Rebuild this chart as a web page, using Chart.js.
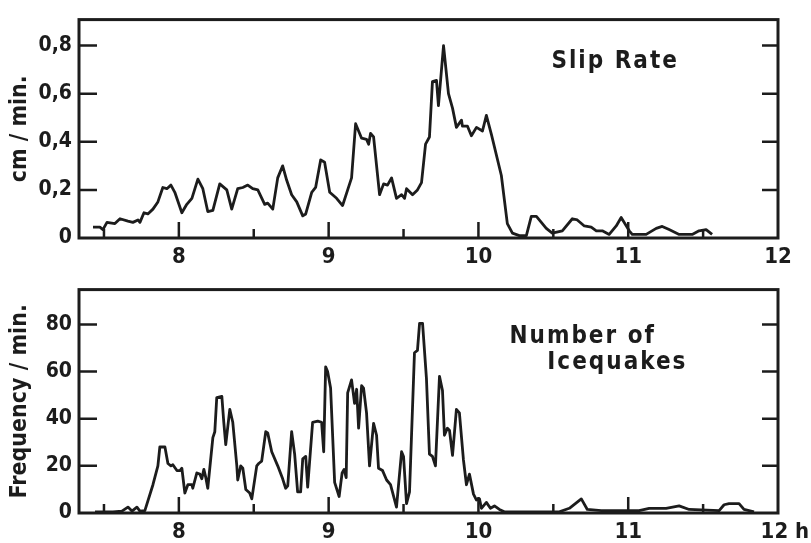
<!DOCTYPE html>
<html>
<head>
<meta charset="utf-8">
<script src="https://cdn.jsdelivr.net/npm/chart.js@4/dist/chart.umd.min.js"></script>
<style>
  body { margin: 0; background: #fff; }
  canvas { position: absolute; left: 0; }
  #slip { top: 0; }
  #quakes { top: 270px; }
</style>
</head>
<body>
<canvas id="slip" width="811" height="270"></canvas>
<canvas id="quakes" width="811" height="273"></canvas>
<script>
// slip rate (cm / min.)
const slipHours = [7.427, 7.473, 7.493, 7.52, 7.573, 7.607, 7.66, 7.693, 7.727, 7.74, 7.767, 7.793, 7.827, 7.86, 7.893, 7.92, 7.947, 7.973,
  8.02, 8.053, 8.087, 8.127, 8.16, 8.193, 8.227, 8.273, 8.32, 8.353, 8.393, 8.427, 8.46, 8.493, 8.527, 8.573, 8.593, 8.627, 8.66, 8.693,
  8.72, 8.753, 8.787, 8.827, 8.847, 8.887, 8.913, 8.947, 8.973, 9.007, 9.053, 9.093, 9.127, 9.153, 9.18, 9.22, 9.253, 9.267, 9.28, 9.3,
  9.34, 9.367, 9.393, 9.42, 9.453, 9.487, 9.507, 9.52, 9.56, 9.593, 9.62, 9.647, 9.673, 9.693, 9.72, 9.733, 9.767, 9.8, 9.827, 9.853,
  9.887, 9.893, 9.927, 9.953, 9.987, 10.027, 10.053, 10.087, 10.153, 10.193, 10.227, 10.273, 10.32, 10.353, 10.387, 10.453, 10.493,
  10.56, 10.627, 10.66, 10.707, 10.753, 10.787, 10.827, 10.873, 10.92, 10.953, 11.007, 11.027, 11.12, 11.187, 11.227, 11.273, 11.34,
  11.427, 11.473, 11.52, 11.56]
const slipRate = [0.045, 0.045, 0.035, 0.065, 0.06, 0.08, 0.07, 0.065, 0.075, 0.065, 0.105, 0.1, 0.12, 0.15, 0.21, 0.205, 0.22, 0.19,
  0.105, 0.14, 0.165, 0.245, 0.205, 0.11, 0.115, 0.225, 0.2, 0.12, 0.205, 0.21, 0.22, 0.205, 0.2, 0.14, 0.145, 0.12, 0.25, 0.3,
  0.24, 0.18, 0.15, 0.092, 0.1, 0.19, 0.21, 0.325, 0.315, 0.19, 0.165, 0.135, 0.2, 0.25, 0.475, 0.415, 0.41, 0.39, 0.435, 0.42,
  0.18, 0.225, 0.22, 0.25, 0.165, 0.18, 0.165, 0.205, 0.18, 0.2, 0.23, 0.39, 0.42, 0.65, 0.655, 0.55, 0.8, 0.6, 0.54, 0.46,
  0.49, 0.465, 0.465, 0.425, 0.46, 0.445, 0.51, 0.43, 0.26, 0.06, 0.02, 0.01, 0.01, 0.09, 0.09, 0.04, 0.02,
  0.03, 0.08, 0.075, 0.05, 0.045, 0.03, 0.03, 0.015, 0.05, 0.085, 0.03, 0.015, 0.015, 0.04, 0.048, 0.035, 0.015,
  0.015, 0.03, 0.035, 0.015]

// icequakes per minute, lower curve
const quakeHours = [7.44, 7.56, 7.62, 7.66, 7.687, 7.72, 7.74, 7.773, 7.827, 7.86, 7.873, 7.907, 7.927, 7.947, 7.96, 7.987, 8.007, 8.02,
  8.04, 8.06, 8.087, 8.093, 8.12, 8.14, 8.153, 8.167, 8.18, 8.193, 8.227, 8.24, 8.253, 8.287, 8.3, 8.313, 8.34, 8.36, 8.387, 8.393,
  8.413, 8.427, 8.447, 8.473, 8.487, 8.52, 8.533, 8.553, 8.58, 8.593, 8.62, 8.66, 8.693, 8.713, 8.727, 8.753, 8.773, 8.793, 8.813,
  8.827, 8.847, 8.86, 8.893, 8.927, 8.953, 8.967, 8.98, 8.993, 9.013, 9.04, 9.07, 9.09, 9.103, 9.117, 9.127, 9.153, 9.173, 9.187,
  9.2, 9.22, 9.233, 9.253, 9.273, 9.3, 9.32, 9.333, 9.36, 9.387, 9.413, 9.453, 9.487, 9.5, 9.52, 9.54, 9.573, 9.593, 9.607, 9.627,
  9.653, 9.673, 9.693, 9.713, 9.74, 9.76, 9.773, 9.793, 9.807, 9.827, 9.853, 9.873, 9.9, 9.92, 9.94, 9.967, 9.987, 10.007, 10.02,
  10.053, 10.08, 10.107, 10.14, 10.173, 10.54, 10.607, 10.687, 10.727, 10.82, 11.073, 11.14, 11.253, 11.34, 11.407, 11.607, 11.64,
  11.673, 11.74, 11.773, 11.84]
const quakeRate = [0.5, 0.5, 0.8, 2.5, 0.8, 2.5, 0.8, 1, 12, 20, 28, 28, 21, 20, 20.5, 18, 18, 19,
  8.5, 12, 12, 10.5, 17, 16.5, 14.5, 18.5, 15, 10.5, 32, 34.5, 49, 49.5, 38.5, 29, 44, 38.5, 20, 14,
  20, 19, 10, 8.5, 6, 20, 21, 22, 34.5, 34, 26, 20, 14.5, 10.5, 11.5, 34.5, 25, 9, 9,
  23, 24, 11, 38.5, 39, 38.5, 26, 62, 60, 53, 13, 7, 17, 18.5, 15, 51, 56.5, 46.5, 52.5,
  36, 54, 53, 42.5, 20, 38, 33, 19, 18, 14, 12, 2.5, 26, 24, 4, 9, 68, 69, 80.5, 80.5,
  57, 25, 24, 20, 58, 52, 33, 36, 35, 24.5, 44, 42.5, 22.5, 12, 16.5, 8, 5.5, 6, 2,
  4.5, 2, 3, 1.5, 0.5, 0.5, 2, 6, 1.5, 1, 1, 2, 2, 3, 1.5, 1, 3.5,
  4, 4, 1.5, 0.5]

const xLabels = [8, 9, 10, 11, 12]
const xInnerTicks = [7.5, 8, 8.5, 9, 9.5, 10, 10.5, 11, 11.5]
const slipTicks = [0, 0.2, 0.4, 0.6, 0.8]
const quakeTicks = [0, 20, 40, 60, 80]

const ink = '#1c1c1c'
const face = '"DejaVu Sans Condensed", "DejaVu Sans", sans-serif'
Chart.defaults.font.family = face
Chart.defaults.font.weight = 'bold'
Chart.defaults.color = ink

// box round the plot, ticks pointing inwards and the in-plot captions
const frame = {
  id: 'frame',
  afterDatasetsDraw(chart, args, opts) {
    const {ctx, chartArea: a, scales: {x, y}} = chart
    ctx.save()
    ctx.strokeStyle = ink
    ctx.lineWidth = 3
    ctx.strokeRect(a.left, a.top, a.right - a.left, a.bottom - a.top)
    ctx.lineWidth = 2.5
    ctx.beginPath()
    xInnerTicks.forEach(v => {
      const px = x.getPixelForValue(v)
      const len = Number.isInteger(v) ? 16 : 9
      ctx.moveTo(px, a.bottom)
      ctx.lineTo(px, a.bottom - len)
    })
    opts.yTicks.forEach(v => {
      if (v === 0) return
      const py = y.getPixelForValue(v)
      ctx.moveTo(a.left, py)
      ctx.lineTo(a.left + 18, py)
      ctx.moveTo(a.right, py)
      ctx.lineTo(a.right - 16, py)
    })
    ctx.stroke()
    ctx.fillStyle = ink
    ctx.font = 'bold 24px ' + face
    ctx.letterSpacing = '2px'
    ctx.textBaseline = 'alphabetic'
    opts.notes.forEach(n => ctx.fillText(n.text, x.getPixelForValue(n.x), y.getPixelForValue(n.y)))
    ctx.restore()
  }
}

function makePanel(id, hours, values, yMax, yTicks, yTitle, yFmt, lastLabel, padTop, xHeight, notes) {
  return new Chart(document.getElementById(id), {
    type: 'line',
    data: {
      datasets: [{
        data: hours.map((h, i) => ({x: h, y: values[i]})),
        borderColor: ink,
        borderWidth: 2.8,
        borderJoinStyle: 'round',
        pointRadius: 0,
        tension: 0
      }]
    },
    options: {
      responsive: false,
      animation: false,
      layout: {padding: {top: padTop, right: 33, left: 0, bottom: 0}},
      plugins: {
        legend: {display: false},
        tooltip: {enabled: false},
        frame: {yTicks: yTicks, notes: notes}
      },
      scales: {
        x: {
          type: 'linear',
          min: 7.3333,
          max: 12,
          grid: {display: false, drawTicks: false},
          border: {display: false},
          afterBuildTicks: s => { s.ticks = xLabels.map(v => ({value: v})) },
          afterFit: s => {
            s.height = xHeight
            s.paddingLeft = 0
            s.paddingRight = 0
          },
          ticks: {
            padding: 6,
            maxRotation: 0,
            autoSkip: false,
            font: {size: 22},
            callback: v => v === 12 ? lastLabel : String(v)
          }
        },
        y: {
          min: 0,
          max: yMax,
          grid: {display: false, drawTicks: false},
          border: {display: false},
          afterBuildTicks: s => { s.ticks = yTicks.map(v => ({value: v})) },
          afterFit: s => { s.width = 79 },
          ticks: {padding: 7, font: {size: 21}, callback: yFmt},
          title: {display: true, text: yTitle, font: {size: 23}, padding: {top: 6, bottom: 0}}
        }
      }
    },
    plugins: [frame]
  })
}

makePanel('slip', slipHours, slipRate, 0.908, slipTicks, 'cm / min.',
  v => v === 0 ? '0' : v.toFixed(1).replace('.', ','), '12', 11, 32,
  [{text: 'Slip Rate', x: 10.487, y: 0.708}])

makePanel('quakes', quakeHours, quakeRate, 94.8, quakeTicks, 'Frequency / min.',
  v => String(v), '  12 h', 6, 30,
  [{text: 'Number of', x: 10.207, y: 72}, {text: 'Icequakes', x: 10.46, y: 61.2}])
</script>
</body>
</html>
